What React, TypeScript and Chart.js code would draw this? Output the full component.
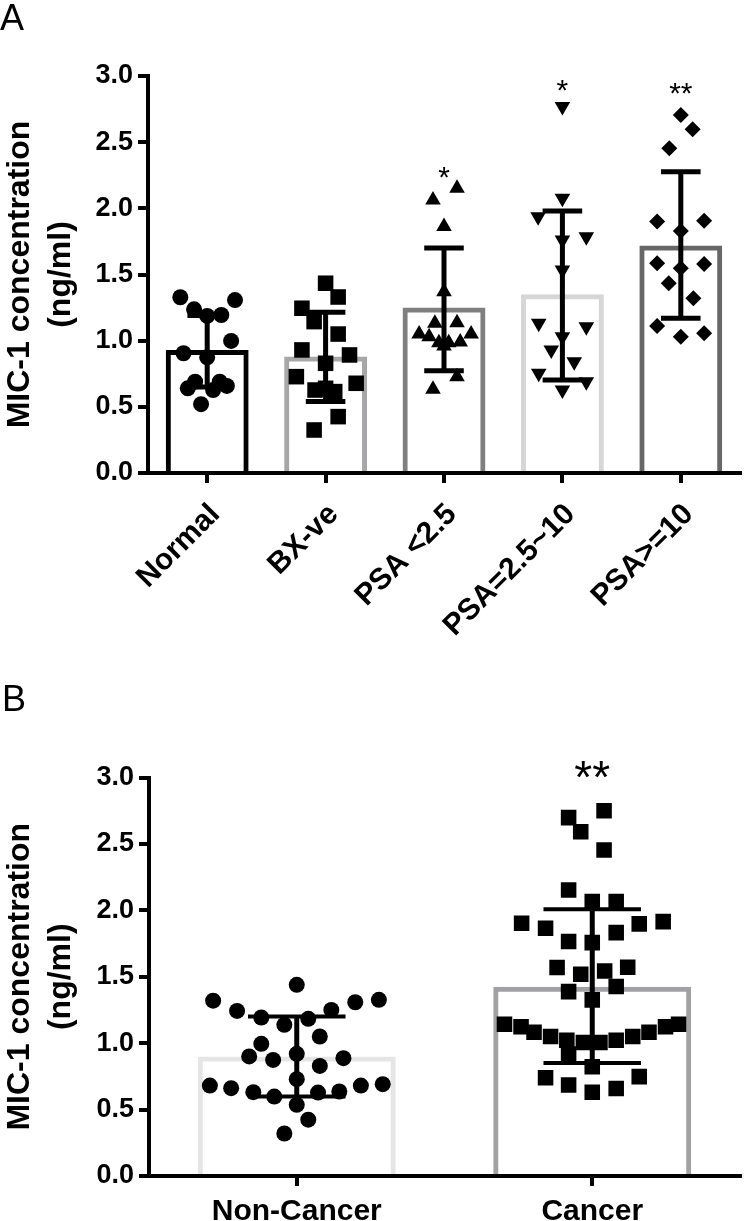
import React, { useEffect, useRef } from 'react';
import { Chart, registerables } from 'chart.js';

Chart.register(...registerables);

const FONT = "Arial, 'Liberation Sans', Helvetica, sans-serif";

// ---------------- Panel A data ----------------
const groupsA = ['Normal', 'BX-ve', 'PSA <2.5', 'PSA=2.5~10', 'PSA>=10'];
const meanA = [0.93, 0.88, 1.25, 1.35, 1.72];
const sdUpperA = [1.19, 1.215, 1.7, 1.98, 2.277];
const sdLowerA = [0.65, 0.54, 0.773, 0.703, 1.169];
const sigA = ['', '', '*', '*', '**'];
const sigYA = [0, 0, 2.29, 2.95, 2.93];
const yTicks = [0, 0.5, 1.0, 1.5, 2.0, 2.5, 3.0];

const normalVals = [1.328, 1.307, 1.237, 1.187, 1.194, 0.998, 0.905, 0.874, 0.69, 0.64, 0.69, 0.658, 0.627, 0.52];
const normalJitter = [-0.227, 0.235, -0.111, 0, 0.119, 0.202, -0.2, 0, -0.102, -0.164, 0.106, 0.166, 0.05, -0.052];

const bxVals = [1.434, 1.33, 1.245, 1.144, 1.05, 0.93, 0.829, 0.892, 0.728, 0.678, 0.627, 0.615, 0.64, 0.426, 0.325];
const bxJitter = [0, 0.106, -0.2, -0.097, 0.106, -0.2, 0, 0.202, -0.247, 0.258, -0.089, 0.077, 0, 0.106, -0.097];

const psaLowVals = [2.152, 2.063, 1.862, 1.37, 1.131, 1.136, 1.05, 1.05, 1.03, 0.99, 0.985, 0.985, 0.96, 0.728, 0.633];
const psaLowJitter = [0.11, -0.093, 0, 0, -0.077, 0.11, -0.21, 0.229, -0.126, 0.137, -0.043, 0.04, 0, 0.11, -0.093];

const psaMidVals = [2.769, 2.076, 1.937, 1.761, 1.786, 1.534, 1.131, 1.106, 1.03, 0.93, 0.841, 0.754, 0.69, 0.627];
const psaMidJitter = [0, 0, -0.205, 0, 0.202, 0, -0.2, 0.202, 0, -0.094, 0.1, -0.2, 0.202, 0];

const psaHighVals = [2.706, 2.598, 2.454, 1.9, 1.907, 1.829, 1.585, 1.58, 1.547, 1.434, 1.32, 1.111, 1.03, 1.056];
const psaHighJitter = [0, 0.1, -0.097, -0.2, 0.197, 0, -0.2, 0.197, 0, -0.102, 0.106, -0.2, 0, 0.197];

// ---------------- Panel B data ----------------
const groupsB = ['Non-Cancer', 'Cancer'];
const meanB = [0.9, 1.425];
const sdUpperB = [1.2, 2.008];
const sdLowerB = [0.598, 0.85];
const sigB = ['', '**'];
const sigYB = [0, 3.08];

const nonCancerVals = [1.439, 1.32, 1.326, 1.308, 1.243, 1.25, 1.193, 1.183, 1.138, 1.05, 0.995, 0.9, 0.874, 0.92,
  0.887, 0.829, 0.729, 0.681, 0.661, 0.631, 0.598, 0.628, 0.636, 0.681, 0.691, 0.536, 0.424, 0.32];
const nonCancerJitter = [0, -0.283, 0.278, 0.198, -0.202, 0.117, -0.12, 0.039, -0.042, 0.078, -0.12, -0.161, -0.08, 0,
  0.158, 0.078, 0, -0.294, -0.222, -0.147, -0.076, 0.072, 0.144, 0.217, 0.291, 0, 0.039, -0.042];

const cancerVals = [2.75, 2.698, 2.592, 2.454, 2.153, 2.066, 2.066, 1.903, 1.865, 1.898, 1.915, 1.832, 1.765, 1.757,
  1.569, 1.519, 1.544, 1.572, 1.388, 1.426, 1.326,
  1.142, 1.123, 1.082, 1.05, 1.022, 1.005, 1.005, 1.022, 1.05, 1.082, 1.123, 1.142,
  0.918, 0.822, 0.74, 0.685, 0.63, 0.658, 0.748];
const cancerJitter = [0.04, -0.08, -0.039, 0.04, -0.08, 0, 0.081, -0.239, -0.158, 0.159, 0.24, 0.081, -0.08, 0,
  -0.119, -0.039, 0.042, 0.12, -0.08, 0.081, 0,
  -0.297, -0.241, -0.197, -0.141, -0.086, -0.03, 0.026, 0.081, 0.137, 0.192, 0.248, 0.292,
  -0.08, 0, -0.158, -0.08, 0, 0.081, 0.159];

// ---------------- styles ----------------
const barColorsA = ['#000000', '#a7a7aa', '#7f7f7f', '#d6d6d6', '#676767'];
const barColorsB = ['#e5e5e5', '#a1a1a4'];

function makeAnnot(upper: number[], lower: number[], sig: string[], sigY: number[], o: any) {
  return {
    id: 'annot',
    afterDatasetsDraw(chart: any) {
      const { ctx } = chart;
      const x = chart.scales.x;
      const y = chart.scales.y;
      ctx.save();
      ctx.strokeStyle = '#000';
      ctx.lineCap = 'butt';
      upper.forEach((u, i) => {
        const px = x.getPixelForValue(i);
        const pu = y.getPixelForValue(u);
        const pl = y.getPixelForValue(lower[i]);
        ctx.lineWidth = o.lineWidth;
        ctx.beginPath();
        ctx.moveTo(px, pu);
        ctx.lineTo(px, pl);
        ctx.stroke();
        ctx.lineWidth = o.capWidth;
        const x0 = x.getPixelForValue(i - o.capHalf);
        const x1 = x.getPixelForValue(i + o.capHalf);
        ctx.beginPath();
        ctx.moveTo(x0, pu);
        ctx.lineTo(x1, pu);
        ctx.moveTo(x0, pl);
        ctx.lineTo(x1, pl);
        ctx.stroke();
      });
      ctx.fillStyle = '#000';
      ctx.font = `${o.sigSize}px ${FONT}`;
      ctx.textAlign = 'center';
      ctx.textBaseline = 'alphabetic';
      sig.forEach((s, i) => {
        if (!s) return;
        const px = x.getPixelForValue(i);
        const py = y.getPixelForValue(sigY[i]);
        ctx.fillText(s, px, py + 0.575 * o.sigSize);
      });
      ctx.restore();
    },
  };
}

function scatterSet(vals: number[], jitter: number[], idx: number, style: string, radius: number, rotation = 0) {
  return {
    type: 'scatter',
    data: vals.map((v, j) => ({ x: idx + jitter[j], y: v })),
    pointStyle: style,
    pointRadius: radius,
    pointRotation: rotation,
    backgroundColor: '#000',
    borderColor: '#000',
    borderWidth: 0,
    order: 1,
  };
}

function commonScales(labels: string[], o: any) {
  return {
    x: {
      type: 'linear',
      min: -0.5,
      max: labels.length - 0.5,
      offset: false,
      afterBuildTicks: (s: any) => {
        s.ticks = labels.map((_, i) => ({ value: i }));
      },
      afterFit: (s: any) => {
        s.height = o.xHeight;
      },
      ticks: {
        autoSkip: false,
        color: '#000',
        font: { family: FONT, size: o.xFont, weight: 'bold' },
        minRotation: o.rotation,
        maxRotation: o.rotation,
        padding: o.xPad,
        labelOffset: o.labelOffset,
        callback: (v: number) => labels[Math.round(v)] ?? '',
      },
      grid: { offset: false, drawOnChartArea: false, color: '#000', lineWidth: 4, tickLength: 10 },
      border: { color: '#000', width: 4 },
    },
    y: {
      type: 'linear',
      min: 0,
      max: 3,
      afterBuildTicks: (s: any) => {
        s.ticks = yTicks.map((v) => ({ value: v }));
      },
      afterFit: (s: any) => {
        s.width = o.yWidth;
      },
      ticks: {
        color: '#000',
        font: { family: FONT, size: 27, weight: 'bold' },
        padding: 5,
        callback: (v: number) => Number(v).toFixed(1),
      },
      grid: { drawOnChartArea: false, color: '#000', lineWidth: 4, tickLength: 10 },
      border: { color: '#000', width: 4 },
      title: {
        display: true,
        text: ['MIC-1 concentration', '(ng/ml)'],
        color: '#000',
        font: { family: FONT, size: 32, weight: 'bold', lineHeight: 1.28 },
        padding: { top: 0, bottom: 0 },
      },
    },
  };
}

function configA() {
  return {
    type: 'bar',
    data: {
      datasets: [
        {
          type: 'bar',
          data: meanA.map((m, i) => ({ x: i, y: m })),
          backgroundColor: 'rgba(255,255,255,0)',
          borderColor: barColorsA,
          borderWidth: 5,
          barPercentage: 0.7,
          categoryPercentage: 1,
          order: 10,
        },
        scatterSet(normalVals, normalJitter, 0, 'circle', 8),
        scatterSet(bxVals, bxJitter, 1, 'rect', 11),
        scatterSet(psaLowVals, psaLowJitter, 2, 'triangle', 9),
        scatterSet(psaMidVals, psaMidJitter, 3, 'triangle', 9, 180),
        scatterSet(psaHighVals, psaHighJitter, 4, 'rectRot', 8),
      ],
    },
    options: {
      responsive: false,
      animation: false,
      events: [],
      layout: { padding: { top: 76, right: 2, bottom: 0, left: 0 } },
      plugins: { legend: { display: false }, tooltip: { enabled: false } },
      scales: commonScales(groupsA, { xHeight: 177, xFont: 30, rotation: 45, xPad: 14, labelOffset: 8, yWidth: 148 }),
    },
    plugins: [makeAnnot(sdUpperA, sdLowerA, sigA, sigYA, { lineWidth: 5, capWidth: 5, capHalf: 0.167, sigSize: 30 })],
  };
}

function configB() {
  return {
    type: 'bar',
    data: {
      datasets: [
        {
          type: 'bar',
          data: meanB.map((m, i) => ({ x: i, y: m })),
          backgroundColor: 'rgba(255,255,255,0)',
          borderColor: barColorsB,
          borderWidth: 5,
          barPercentage: 0.67,
          categoryPercentage: 1,
          order: 10,
        },
        scatterSet(nonCancerVals, nonCancerJitter, 0, 'circle', 8),
        scatterSet(cancerVals, cancerJitter, 1, 'rect', 11),
      ],
    },
    options: {
      responsive: false,
      animation: false,
      events: [],
      layout: { padding: { top: 127.5, right: 2, bottom: 0, left: 0 } },
      plugins: { legend: { display: false }, tooltip: { enabled: false } },
      scales: commonScales(groupsB, { xHeight: 45, xFont: 30, rotation: 0, xPad: 8, labelOffset: 0, yWidth: 149 }),
    },
    plugins: [makeAnnot(sdUpperB, sdLowerB, sigB, sigYB, { lineWidth: 5, capWidth: 4, capHalf: 0.165, sigSize: 46 })],
  };
}

function ChartCanvas({ make, top, height }: { make: () => any; top: number; height: number }) {
  const ref = useRef<HTMLCanvasElement>(null);
  useEffect(() => {
    const chart = new Chart(ref.current as HTMLCanvasElement, make());
    return () => chart.destroy();
  }, []);
  return (
    <canvas
      ref={ref}
      width={751}
      height={height}
      style={{ position: 'absolute', left: 0, top, width: 751, height, display: 'block' }}
    />
  );
}

export default function App() {
  const letter: React.CSSProperties = {
    position: 'absolute',
    fontFamily: FONT,
    fontSize: 36,
    lineHeight: 1,
    color: '#000',
  };
  return (
    <div style={{ position: 'absolute', left: 0, top: 0, width: 751, height: 1221, background: '#fff', overflow: 'hidden' }}>
      <ChartCanvas make={configA} top={0} height={650} />
      <ChartCanvas make={configB} top={650} height={571} />
      <div style={{ ...letter, left: 0, top: 0 }}>A</div>
      <div style={{ ...letter, left: 2, top: 681 }}>B</div>
    </div>
  );
}
